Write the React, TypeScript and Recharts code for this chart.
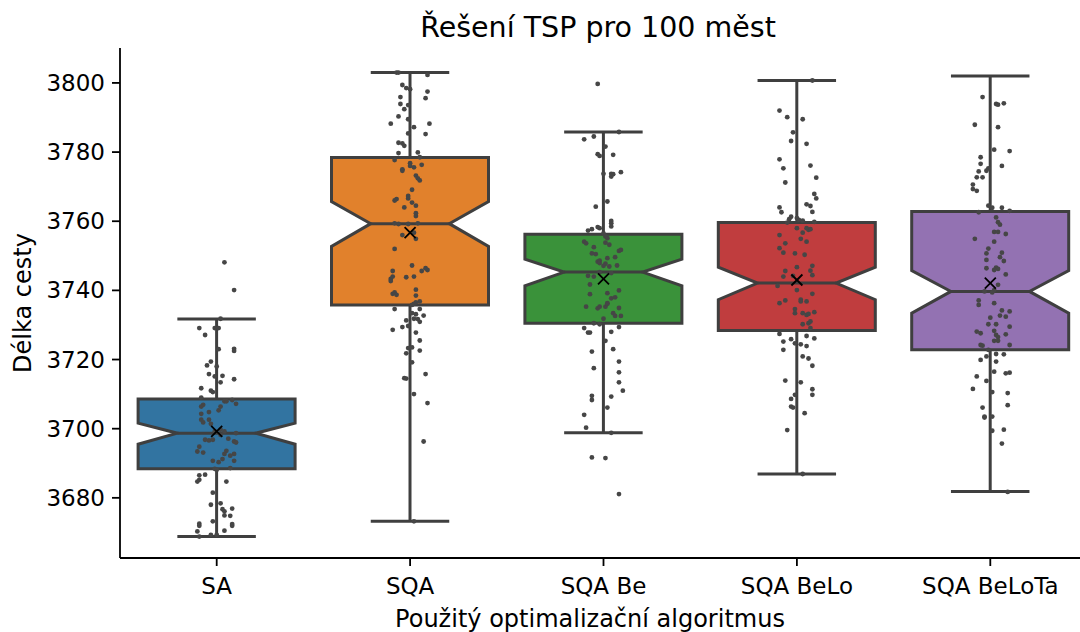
import { ComposedChart, Bar, Scatter, XAxis, YAxis } from "recharts";

const algorithms = ["SA", "SQA", "SQA Be", "SQA BeLo", "SQA BeLoTa"];
const colors = ["#3274a1", "#e1812c", "#3a923a", "#c03d3e", "#9372b2"];
const yTicks = [3680, 3700, 3720, 3740, 3760, 3780, 3800];

// box statistics per algorithm
const whiskerLow = [3668.8, 3673.2, 3698.8, 3686.9, 3681.8];
const quartile1 = [3688.4, 3735.8, 3730.5, 3728.4, 3722.8];
const notchLow = [3695.5, 3752.7, 3741.3, 3737.3, 3733.4];
const medians = [3698.7, 3759.3, 3745.3, 3742.1, 3739.7];
const notchHigh = [3701.6, 3765.7, 3749.0, 3746.7, 3745.7];
const quartile3 = [3708.6, 3778.4, 3756.2, 3759.6, 3762.8];
const whiskerHigh = [3731.7, 3803.0, 3785.8, 3800.7, 3802.0];
const means = [3699.2, 3756.7, 3743.3, 3743.0, 3742.1];

// individual runs: [jitter, path length]
const saRuns = [
  [0.04, 3748.1], [0.09, 3740.1], [-0.09, 3729.1], [-0.01, 3729.1], [0.01, 3729.1],
  [-0.06, 3727.1], [0.01, 3723.0], [0.09, 3723.1], [0.09, 3722.5], [-0.05, 3718.3],
  [-0.03, 3719.4], [0.0, 3718.0], [-0.04, 3715.8], [-0.01, 3715.1], [0.03, 3715.3],
  [0.09, 3714.3], [0.02, 3713.4], [-0.08, 3711.7], [-0.03, 3711.0], [-0.02, 3710.6],
  [-0.08, 3709.0], [0.08, 3708.3], [0.04, 3707.9], [0.1, 3707.2], [0.05, 3707.9],
  [-0.07, 3706.9], [-0.08, 3706.4], [0.02, 3706.4], [0.01, 3705.3], [-0.04, 3704.8],
  [-0.08, 3704.3], [-0.08, 3702.6], [-0.04, 3702.6], [-0.07, 3701.8], [-0.03, 3701.4],
  [0.02, 3699.7], [0.04, 3699.2], [0.1, 3698.7], [0.02, 3698.2], [-0.01, 3699.2],
  [-0.06, 3696.8], [-0.04, 3696.6], [-0.02, 3696.8], [0.06, 3697.1], [0.09, 3696.3],
  [0.1, 3696.0], [-0.09, 3694.8], [-0.1, 3693.4], [-0.07, 3693.1], [0.05, 3693.6],
  [0.04, 3692.7], [0.09, 3692.7], [0.07, 3692.2], [0.03, 3691.2], [0.01, 3690.3],
  [-0.02, 3690.7], [0.09, 3690.7], [-0.01, 3688.4], [0.0, 3688.1], [0.07, 3688.6],
  [-0.09, 3686.5], [-0.06, 3686.7], [-0.09, 3685.2], [-0.1, 3684.7], [0.05, 3684.7],
  [-0.02, 3681.5], [-0.03, 3678.0], [0.02, 3678.4], [0.03, 3676.7], [0.08, 3676.9],
  [0.04, 3676.1], [0.04, 3674.9], [0.07, 3674.8], [-0.09, 3672.5], [-0.09, 3671.9],
  [-0.02, 3673.2], [0.08, 3672.4], [0.08, 3671.9], [-0.1, 3670.3], [0.04, 3670.5],
  [-0.09, 3668.8], [-0.03, 3669.3], [0.0, 3669.3], [0.02, 3731.8],
];

const sqaRuns = [
  [-0.07, 3803.0], [-0.06, 3803.0], [0.09, 3802.3], [-0.04, 3799.4], [-0.02, 3798.5],
  [0.0, 3798.2], [0.09, 3797.5], [-0.05, 3795.9], [0.08, 3795.6], [-0.05, 3793.9],
  [-0.01, 3793.6], [-0.03, 3792.4], [-0.06, 3790.3], [-0.01, 3789.5], [-0.1, 3788.2],
  [0.1, 3788.2], [0.02, 3787.2], [0.08, 3785.2], [-0.01, 3785.4], [-0.06, 3782.7],
  [-0.04, 3782.5], [-0.03, 3781.8], [-0.06, 3779.7], [0.04, 3779.9], [0.05, 3778.5],
  [-0.08, 3777.7], [0.0, 3776.8], [0.0, 3776.0], [0.02, 3775.6], [0.06, 3776.3],
  [-0.04, 3775.0], [-0.04, 3774.6], [0.03, 3773.2], [0.04, 3772.4], [0.05, 3771.8],
  [0.01, 3769.1], [-0.01, 3767.3], [-0.01, 3766.6], [-0.08, 3766.0], [-0.07, 3766.4],
  [0.01, 3765.4], [0.03, 3764.5], [-0.03, 3764.0], [0.03, 3762.3], [0.03, 3761.5],
  [-0.08, 3759.4], [-0.06, 3759.2], [-0.01, 3759.2], [0.04, 3759.4], [0.02, 3756.7],
  [-0.04, 3756.0], [0.03, 3754.9], [-0.08, 3752.0], [0.01, 3747.2], [0.08, 3746.4],
  [0.06, 3745.6], [0.09, 3745.9], [-0.09, 3745.6], [-0.1, 3743.3], [-0.09, 3744.0],
  [-0.02, 3743.8], [0.02, 3744.0], [-0.1, 3742.7], [0.03, 3740.2], [-0.09, 3739.0],
  [-0.08, 3739.4], [-0.07, 3738.7], [0.03, 3738.5], [0.05, 3736.8], [0.03, 3736.5],
  [0.02, 3736.1], [0.01, 3735.8], [-0.08, 3734.6], [0.05, 3734.6], [0.01, 3733.4],
  [0.03, 3733.1], [0.07, 3732.7], [-0.02, 3731.3], [0.02, 3731.8], [0.04, 3731.7],
  [0.05, 3730.9], [-0.04, 3729.4], [-0.01, 3729.7], [-0.09, 3728.6], [0.03, 3727.8],
  [0.05, 3725.5], [-0.01, 3723.3], [0.01, 3723.5], [-0.02, 3721.8], [0.05, 3722.6],
  [0.01, 3719.2], [0.08, 3715.8], [-0.03, 3714.6], [-0.02, 3714.5], [0.02, 3710.0],
  [0.09, 3707.4], [0.07, 3696.3], [0.02, 3673.2],
];

const sqaBeRuns = [
  [-0.03, 3799.7], [0.08, 3785.8], [-0.1, 3783.7], [-0.05, 3784.5], [0.01, 3781.6],
  [-0.03, 3779.4], [-0.02, 3778.9], [0.05, 3779.2], [0.0, 3773.7], [0.04, 3773.7],
  [0.05, 3773.6], [0.04, 3772.9], [0.09, 3774.2], [0.02, 3765.7], [-0.04, 3764.2],
  [0.04, 3760.1], [0.04, 3759.4], [0.04, 3758.5], [-0.08, 3757.3], [-0.06, 3757.7],
  [-0.03, 3758.3], [-0.02, 3758.0], [0.0, 3756.5], [0.02, 3755.1], [0.01, 3755.6],
  [-0.1, 3754.1], [-0.09, 3753.6], [0.01, 3753.8], [0.03, 3753.2], [-0.05, 3752.5],
  [0.08, 3751.4], [0.09, 3751.7], [-0.06, 3750.7], [-0.04, 3750.5], [0.06, 3749.6],
  [0.02, 3749.3], [-0.03, 3748.3], [-0.02, 3748.6], [-0.02, 3747.9], [0.01, 3747.7],
  [0.0, 3747.1], [0.03, 3746.9], [0.07, 3747.2], [-0.08, 3744.2], [-0.05, 3744.0],
  [-0.02, 3745.3], [0.04, 3745.0], [-0.07, 3741.7], [-0.07, 3738.9], [0.02, 3739.2],
  [0.08, 3740.0], [0.04, 3737.7], [0.06, 3738.0], [-0.09, 3735.3], [-0.03, 3734.8],
  [-0.02, 3735.3], [0.01, 3735.3], [0.02, 3736.1], [0.02, 3736.3], [0.08, 3734.9],
  [0.05, 3733.4], [0.06, 3732.6], [0.09, 3732.6], [0.0, 3731.8], [-0.05, 3730.5],
  [-0.02, 3730.2], [-0.1, 3729.1], [-0.08, 3727.8], [-0.07, 3727.8], [0.08, 3729.4],
  [0.04, 3728.0], [0.01, 3725.4], [0.05, 3723.0], [-0.06, 3722.3], [0.08, 3719.4],
  [0.08, 3716.3], [-0.05, 3717.5], [0.08, 3713.4], [0.1, 3711.0], [-0.06, 3709.5],
  [-0.06, 3708.3], [0.04, 3709.3], [0.02, 3706.1], [-0.1, 3704.0], [-0.09, 3700.3],
  [0.04, 3698.8], [-0.06, 3691.7], [0.01, 3691.5], [0.08, 3681.1],
];

const sqaBeLoRuns = [
  [0.08, 3800.7], [-0.09, 3792.0], [-0.05, 3790.1], [0.03, 3789.5], [-0.02, 3785.7],
  [-0.03, 3783.2], [0.05, 3782.4], [-0.09, 3777.9], [-0.07, 3775.3], [0.07, 3776.1],
  [0.1, 3772.6], [-0.06, 3771.2], [0.09, 3767.9], [0.1, 3766.6], [-0.09, 3764.0],
  [-0.08, 3762.6], [0.05, 3764.9], [0.07, 3764.4], [0.08, 3762.7], [-0.03, 3761.3],
  [-0.05, 3759.6], [-0.04, 3760.6], [0.0, 3760.9], [0.01, 3760.4], [0.03, 3760.2],
  [0.09, 3759.8], [0.0, 3758.0], [0.03, 3756.7], [0.05, 3758.0], [0.06, 3757.5],
  [0.07, 3757.7], [-0.09, 3756.0], [0.02, 3754.9], [0.05, 3754.1], [-0.06, 3753.6],
  [-0.09, 3752.2], [-0.07, 3750.9], [-0.01, 3750.7], [0.04, 3750.3], [0.08, 3747.1],
  [0.07, 3745.7], [0.08, 3744.4], [0.0, 3746.7], [-0.06, 3745.6], [-0.07, 3744.0],
  [-0.02, 3744.2], [-0.1, 3741.3], [0.0, 3740.1], [0.08, 3739.0], [-0.09, 3736.3],
  [-0.06, 3737.1], [0.02, 3737.3], [0.02, 3736.8], [0.05, 3736.8], [-0.01, 3734.6],
  [-0.01, 3733.4], [0.03, 3733.4], [0.05, 3732.9], [0.06, 3733.2], [0.09, 3733.7],
  [0.03, 3730.2], [0.06, 3730.5], [0.07, 3731.0], [0.07, 3729.1], [-0.09, 3727.4],
  [-0.07, 3725.2], [-0.03, 3725.9], [-0.01, 3724.7], [0.02, 3724.4], [0.05, 3726.8],
  [0.09, 3726.1], [0.05, 3723.9], [-0.07, 3722.8], [0.03, 3720.9], [0.06, 3720.3],
  [0.08, 3718.2], [-0.06, 3713.9], [0.02, 3713.4], [0.08, 3711.4], [0.08, 3709.8],
  [-0.01, 3709.8], [-0.03, 3708.6], [-0.03, 3706.4], [-0.02, 3706.1], [0.04, 3704.5],
  [-0.05, 3699.6], [0.03, 3686.9],
];

const sqaBeLoTaRuns = [
  [-0.04, 3795.9], [0.03, 3793.9], [0.04, 3793.7], [0.07, 3794.1], [-0.08, 3787.9],
  [0.04, 3787.2], [0.02, 3780.7], [0.1, 3780.3], [-0.05, 3778.5], [-0.05, 3776.6],
  [0.06, 3776.0], [-0.01, 3775.3], [-0.02, 3774.6], [-0.06, 3774.4], [-0.07, 3772.7],
  [-0.04, 3772.7], [-0.09, 3770.6], [-0.09, 3769.3], [-0.07, 3768.8], [-0.01, 3764.5],
  [0.01, 3763.9], [0.06, 3763.9], [0.1, 3763.0], [-0.06, 3762.6], [0.03, 3761.1],
  [0.04, 3759.7], [0.05, 3759.0], [0.02, 3756.9], [0.04, 3756.9], [0.08, 3756.3],
  [-0.08, 3754.9], [0.02, 3754.1], [-0.01, 3752.1], [-0.02, 3750.7], [0.06, 3750.9],
  [0.05, 3749.6], [0.07, 3748.5], [-0.02, 3748.8], [-0.02, 3746.4], [0.03, 3746.6],
  [0.04, 3746.2], [0.02, 3745.9], [0.08, 3744.6], [0.04, 3741.6], [0.02, 3740.1],
  [0.01, 3739.4], [-0.03, 3739.7], [-0.06, 3737.1], [-0.06, 3735.8], [0.02, 3736.3],
  [0.06, 3734.2], [0.05, 3732.7], [0.08, 3732.4], [0.1, 3733.9], [0.0, 3732.1],
  [-0.01, 3730.2], [0.03, 3730.2], [0.1, 3729.5], [-0.07, 3728.1], [-0.05, 3727.6],
  [0.02, 3728.3], [0.03, 3727.1], [0.04, 3726.5], [0.04, 3725.4], [0.02, 3725.4],
  [0.08, 3727.3], [-0.05, 3724.2], [-0.04, 3724.0], [0.1, 3724.2], [-0.01, 3722.8],
  [-0.02, 3720.9], [0.03, 3721.6], [0.07, 3721.5], [-0.05, 3719.9], [0.03, 3719.4],
  [0.02, 3716.5], [0.08, 3716.0], [0.1, 3716.2], [-0.07, 3715.1], [-0.02, 3713.8],
  [-0.09, 3711.5], [0.01, 3710.6], [0.09, 3710.3], [0.09, 3706.8], [-0.04, 3706.1],
  [-0.03, 3703.2], [-0.03, 3703.5], [0.01, 3703.5], [0.01, 3699.4], [0.07, 3699.7],
  [0.06, 3695.7], [0.09, 3681.7],
];

const runsByAlgorithm = [saRuns, sqaRuns, sqaBeRuns, sqaBeLoRuns, sqaBeLoTaRuns];

const FONT = "'DejaVu Sans', sans-serif";
const EDGE = "#3f3f3f";
const BOX_WIDTH = 157;

const boxData = algorithms.map((name, i) => ({
  name,
  x: i,
  range: [quartile1[i], quartile3[i]],
  q1: quartile1[i],
  q3: quartile3[i],
  lo: whiskerLow[i],
  hi: whiskerHigh[i],
  nLo: notchLow[i],
  nHi: notchHigh[i],
  med: medians[i],
  fill: colors[i],
}));

const pointData = runsByAlgorithm.flatMap((runs, i) =>
  runs.map(([j, v]) => ({ x: i + j, y: v }))
);

const meanData = means.map((m, i) => ({ x: i, y: m }));

// notched box drawn from the bar rect (q1..q3), using its pixel/unit ratio
function NotchedBox(props: any) {
  const { x, y, width, height, payload } = props;
  const top = Math.min(y, y + height);
  const h = Math.abs(height);
  const k = h / (payload.q3 - payload.q1);
  const Y = (v: number) => top + (payload.q3 - v) * k;
  const cx = x + width / 2;
  const hw = BOX_WIDTH / 2;
  const nw = hw / 2;
  const pts = [
    [cx - hw, Y(payload.q1)],
    [cx - hw, Y(payload.nLo)],
    [cx - nw, Y(payload.med)],
    [cx - hw, Y(payload.nHi)],
    [cx - hw, Y(payload.q3)],
    [cx + hw, Y(payload.q3)],
    [cx + hw, Y(payload.nHi)],
    [cx + nw, Y(payload.med)],
    [cx + hw, Y(payload.nLo)],
    [cx + hw, Y(payload.q1)],
  ]
    .map((p) => p.join(","))
    .join(" ");
  return (
    <g>
      <line x1={cx} x2={cx} y1={Y(payload.q3)} y2={Y(payload.hi)} stroke={EDGE} strokeWidth={3} />
      <line x1={cx} x2={cx} y1={Y(payload.q1)} y2={Y(payload.lo)} stroke={EDGE} strokeWidth={3} />
      <line x1={cx - nw} x2={cx + nw} y1={Y(payload.hi)} y2={Y(payload.hi)} stroke={EDGE} strokeWidth={3} />
      <line x1={cx - nw} x2={cx + nw} y1={Y(payload.lo)} y2={Y(payload.lo)} stroke={EDGE} strokeWidth={3} />
      <polygon points={pts} fill={payload.fill} stroke={EDGE} strokeWidth={3} strokeLinejoin="miter" />
      <line x1={cx - nw} x2={cx + nw} y1={Y(payload.med)} y2={Y(payload.med)} stroke={EDGE} strokeWidth={3} />
    </g>
  );
}

const Dot = (p: any) => <circle cx={p.cx} cy={p.cy} r={2.4} fill="#464646" />;

const MeanMark = (p: any) => (
  <g stroke="#000" strokeWidth={1.8}>
    <line x1={p.cx - 5.5} y1={p.cy - 5.5} x2={p.cx + 5.5} y2={p.cy + 5.5} />
    <line x1={p.cx - 5.5} y1={p.cy + 5.5} x2={p.cx + 5.5} y2={p.cy - 5.5} />
  </g>
);

const XTick = (p: any) => (
  <text x={p.x} y={p.y + 28} textAnchor="middle" fontSize={23} fontFamily={FONT} fill="#000">
    {algorithms[p.payload.value]}
  </text>
);

const YTick = (p: any) => (
  <text x={p.x - 7} y={p.y + 8} textAnchor="end" fontSize={23} fontFamily={FONT} fill="#000">
    {p.payload.value}
  </text>
);

export default function App() {
  return (
    <div style={{ position: "absolute", left: 0, top: 0, width: 1080, height: 632, overflow: "hidden", background: "#fff", fontFamily: FONT }}>
      <div style={{ position: "absolute", left: 598, top: 27, transform: "translate(-50%, -50%)", fontSize: 28.5, whiteSpace: "nowrap" }}>
        Řešení TSP pro 100 měst
      </div>
      <div style={{ position: "absolute", left: 590, top: 619, transform: "translate(-50%, -50%)", fontSize: 24, whiteSpace: "nowrap" }}>
        Použitý optimalizační algoritmus
      </div>
      <div style={{ position: "absolute", left: 23, top: 303, transform: "translate(-50%, -50%) rotate(-90deg)", fontSize: 24, whiteSpace: "nowrap" }}>
        Délka cesty
      </div>
      <div style={{ position: "absolute", left: 0, top: 0 }}>
        <ComposedChart width={1100} height={632} data={boxData} margin={{ top: 48, right: 13, bottom: 0, left: 0 }}>
          <XAxis
            xAxisId="top"
            orientation="top"
            type="number"
            dataKey="x"
            domain={[-0.5, 4.5]}
            allowDataOverflow
            height={0}
            tick={false}
            tickLine={false}
            axisLine={{ stroke: "#000", strokeWidth: 1.8 }}
          />
          <XAxis
            type="number"
            dataKey="x"
            domain={[-0.5, 4.5]}
            allowDataOverflow
            ticks={[0, 1, 2, 3, 4]}
            interval={0}
            height={74}
            tickSize={8}
            tickMargin={0}
            tick={<XTick />}
            tickLine={{ stroke: "#000", strokeWidth: 1.8 }}
            axisLine={{ stroke: "#000", strokeWidth: 1.8 }}
          />
          <YAxis
            type="number"
            domain={[3662.6, 3810.1]}
            allowDataOverflow
            ticks={yTicks}
            interval={0}
            width={120}
            tickSize={8}
            tickMargin={0}
            tick={<YTick />}
            tickLine={{ stroke: "#000", strokeWidth: 1.8 }}
            axisLine={{ stroke: "#000", strokeWidth: 1.8 }}
          />
          <Bar dataKey="range" barSize={157} shape={<NotchedBox />} isAnimationActive={false} />
          <Scatter data={pointData} dataKey="y" shape={<Dot />} isAnimationActive={false} />
          <Scatter data={meanData} dataKey="y" shape={<MeanMark />} isAnimationActive={false} />
        </ComposedChart>
      </div>
    </div>
  );
}
